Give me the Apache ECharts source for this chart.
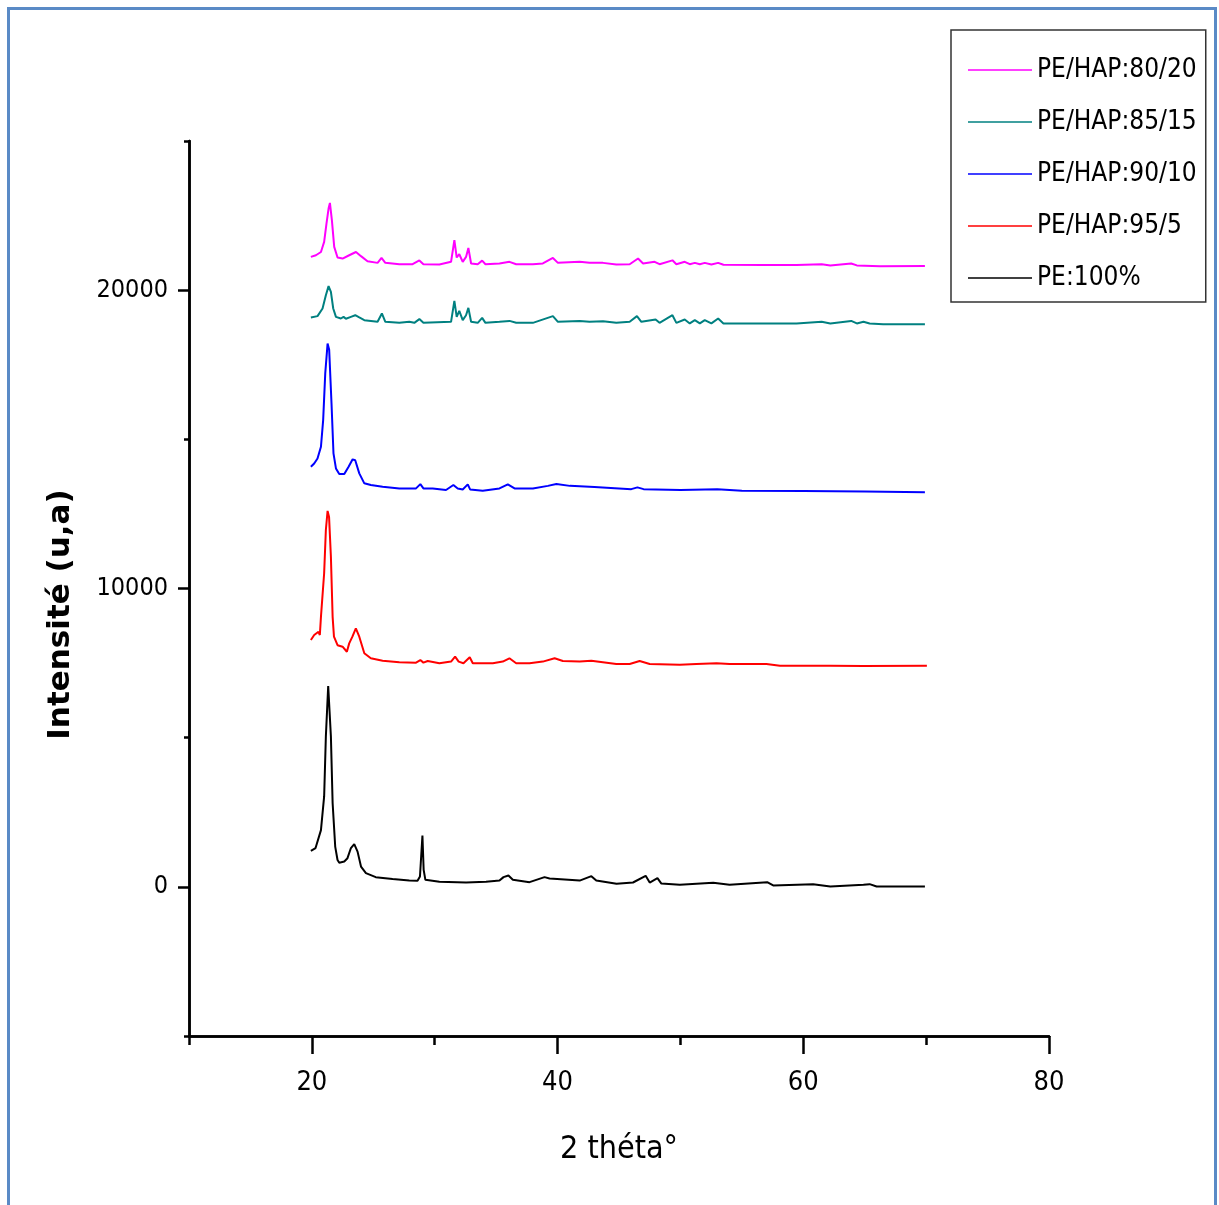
<!DOCTYPE html>
<html>
<head>
<meta charset="utf-8">
<script src="https://cdn.jsdelivr.net/npm/echarts@6/dist/echarts.min.js"></script>
<style>
html,body{margin:0;padding:0;background:#fff;}
#chart{width:1219px;height:1205px;}
</style>
</head>
<body>
<div id="chart"></div>
<script>
// ---- data (2θ, intensity) ----
const seriesNames = ['PE/HAP:80/20', 'PE/HAP:85/15', 'PE/HAP:90/10', 'PE/HAP:95/5', 'PE:100%'];
const seriesColors = ['#ff00ff', '#008080', '#0000ff', '#ff0000', '#000000'];

const pe80_20 = [
  [19.92,21115],[20.33,21170],[20.74,21280],[21.0,21620],[21.19,22230],[21.36,22735],[21.47,22925],
  [21.63,22345],[21.82,21450],[22.09,21095],[22.5,21060],[23.04,21170],[23.59,21280],[24.0,21140],
  [24.53,20970],[25.35,20915],[25.67,21080],[25.98,20915],[27.12,20870],[28.2,20870],[28.75,20995],
  [29.08,20870],[30.38,20860],[31.33,20950],[31.6,21675],[31.79,21095],[32.0,21205],[32.28,20950],
  [32.55,21115],[32.74,21415],[32.96,20895],[33.5,20870],[33.86,20990],[34.13,20870],[35.27,20895],
  [36.09,20950],[36.63,20870],[37.99,20870],[38.8,20895],[39.62,21080],[40.03,20915],[41.8,20950],
  [42.6,20915],[43.7,20915],[44.78,20860],[45.87,20870],[46.55,21060],[46.96,20895],[47.9,20950],
  [48.3,20870],[49.35,21000],[49.67,20870],[50.35,20950],[50.76,20870],[51.17,20915],[51.58,20870],
  [51.98,20915],[52.52,20860],[53.07,20915],[53.5,20850],[56.73,20840],[59.45,20840],[61.5,20870],
  [62.2,20830],[63.9,20895],[64.36,20830],[66.25,20800],[69.9,20810]
];
const pe85_15 = [
  [19.92,19085],[20.46,19130],[20.87,19385],[21.14,19830],[21.36,20135],[21.55,19940],[21.74,19385],
  [21.96,19105],[22.36,19050],[22.58,19105],[22.77,19040],[23.18,19105],[23.53,19160],[23.86,19085],
  [24.27,18995],[25.35,18940],[25.7,19220],[25.98,18940],[27.12,18905],[27.93,18940],[28.34,18905],
  [28.75,19030],[29.08,18905],[31.33,18940],[31.6,19640],[31.79,19105],[32.0,19305],[32.28,18995],
  [32.55,19160],[32.74,19405],[32.96,18940],[33.5,18905],[33.86,19070],[34.13,18905],[35.27,18940],
  [36.09,18970],[36.63,18905],[37.99,18905],[39.62,19130],[40.03,18940],[41.8,18970],[42.6,18940],
  [43.7,18960],[44.78,18905],[45.87,18940],[46.46,19130],[46.82,18940],[47.98,19015],[48.3,18905],
  [49.35,19160],[49.67,18905],[50.35,19015],[50.76,18885],[51.17,18995],[51.58,18885],[51.98,18995],
  [52.52,18885],[53.07,19050],[53.5,18885],[56.73,18885],[59.45,18885],[61.5,18940],[62.2,18885],
  [63.9,18970],[64.36,18885],[64.9,18940],[65.4,18885],[66.5,18860],[69.9,18860]
];
const pe90_10 = [
  [19.92,14080],[20.19,14190],[20.46,14360],[20.74,14750],[20.92,15645],[21.09,17210],[21.28,18210],
  [21.41,18000],[21.6,16200],[21.76,14530],[21.96,14025],[22.23,13835],[22.64,13835],[22.99,14080],
  [23.32,14330],[23.53,14300],[23.86,13860],[24.27,13525],[24.8,13470],[25.76,13410],[27.12,13355],
  [28.48,13355],[28.83,13500],[29.08,13355],[29.84,13355],[30.92,13300],[31.52,13470],[31.87,13355],
  [32.28,13320],[32.69,13490],[32.88,13320],[33.91,13275],[35.27,13355],[35.95,13490],[36.5,13355],
  [37.99,13355],[39.21,13440],[39.9,13500],[41.0,13440],[43.0,13400],[46.0,13330],[46.5,13390],
  [47.0,13330],[50.0,13300],[53.0,13330],[55.0,13280],[60.0,13265],[65.0,13250],[69.9,13230]
];
const pe95_5 = [
  [19.92,8275],[20.19,8440],[20.54,8550],[20.65,8440],[20.74,9050],[21.0,10510],[21.14,11960],
  [21.28,12600],[21.4,12400],[21.55,11065],[21.69,9050],[21.8,8385],[22.09,8100],[22.5,8050],
  [22.85,7880],[23.04,8160],[23.3,8385],[23.58,8665],[23.86,8385],[24.27,7830],[24.8,7660],
  [25.76,7580],[27.12,7530],[28.48,7515],[28.83,7600],[29.08,7515],[29.43,7570],[30.38,7495],
  [31.33,7550],[31.66,7715],[31.95,7550],[32.34,7495],[32.85,7695],[33.1,7495],[34.73,7495],
  [35.54,7550],[36.08,7660],[36.63,7495],[37.72,7495],[38.8,7550],[39.76,7660],[40.43,7570],
  [41.8,7550],[42.75,7580],[44.78,7470],[45.87,7470],[46.68,7570],[47.5,7470],[49.95,7440],
  [51.3,7470],[52.94,7495],[54.0,7470],[57.0,7470],[58.1,7410],[62.2,7410],[64.9,7400],[70.06,7410]
];
const pe100 = [
  [19.92,1206],[20.3,1300],[20.74,1900],[21.0,3030],[21.14,5040],[21.33,6730],[21.55,5040],
  [21.69,2810],[21.9,1350],[22.09,900],[22.23,810],[22.64,850],[22.9,960],[23.18,1300],[23.45,1430],
  [23.72,1180],[24.0,680],[24.4,460],[25.2,325],[26.57,260],[27.93,210],[28.6,200],[28.8,345],
  [29.0,1720],[29.1,570],[29.24,235],[30.38,170],[32.55,145],[34.18,170],[35.27,210],[35.6,325],
  [36.0,380],[36.36,235],[37.72,157],[38.94,325],[39.35,280],[41.8,210],[42.75,357],[43.15,210],
  [44.8,100],[46.14,145],[47.17,370],[47.5,145],[48.13,290],[48.45,110],[49.95,67],[52.67,134],
  [54.0,67],[57.06,157],[57.55,45],[60.8,90],[62.2,10],[64.9,67],[65.4,90],[65.97,10],[69.9,10]
];
const seriesData = [pe80_20, pe85_15, pe90_10, pe95_5, pe100];

const xTickLabels = [20, 40, 60, 80];
const yTickLabels = [0, 10000, 20000];

const narrow = '"Liberation Sans Narrow", "Arial Narrow", "DejaVu Sans Condensed", sans-serif';

const chart = echarts.init(document.getElementById('chart'), null, {renderer: 'canvas'});

chart.setOption({
  animation: false,
  backgroundColor: '#ffffff',
  grid: {left: 189, right: 170, top: 141, bottom: 169},
  graphic: [{
    type: 'rect', left: 6, top: 6, z: -1,
    shape: {width: 1207, height: 1260},
    style: {fill: 'none', stroke: '#5a8ac6', lineWidth: 3}
  }],
  legend: {
    data: seriesNames,
    orient: 'vertical',
    left: 951, top: 30,
    padding: [27, 9, 11, 17],
    itemGap: 26,
    itemWidth: 64,
    itemHeight: 1.5,
    icon: 'rect',
    borderColor: '#333333',
    borderWidth: 1.5,
    textStyle: {fontFamily: narrow, fontSize: 26, color: '#000'}
  },
  xAxis: [{
    type: 'value', min: 10, max: 80, interval: 10, position: 'bottom',
    name: '2 théta°', nameLocation: 'middle', nameGap: 98,
    nameTextStyle: {fontFamily: narrow, fontSize: 32, color: '#000'},
    axisLine: {show: true, onZero: false, lineStyle: {color: '#000', width: 2.5}},
    axisTick: {show: true, length: 18, customValues: xTickLabels, lineStyle: {color: '#000', width: 2.5}},
    axisLabel: {
      margin: 33, fontFamily: narrow, fontSize: 27, color: '#000',
      customValues: xTickLabels,
      formatter: function (v) { return xTickLabels.indexOf(v) >= 0 ? String(v) : ''; }
    },
    splitLine: {show: false}
  }, {
    type: 'value', min: 10, max: 80, interval: 10, position: 'bottom', offset: 0,
    axisLine: {show: true, onZero: false, lineStyle: {color: '#000', width: 2.5}},
    axisTick: {show: true, length: 9, lineStyle: {color: '#000', width: 2.5}},
    axisLabel: {show: false},
    splitLine: {show: false}
  }],
  yAxis: [{
    type: 'value', min: -5000, max: 25000, interval: 5000, position: 'left',
    name: 'Intensité (u,a)', nameLocation: 'middle', nameGap: 113,
    nameTextStyle: {fontFamily: '"DejaVu Sans", sans-serif', fontWeight: 'bold', fontSize: 31, color: '#000',
                    padding: [0, 52, 0, 0]},
    axisLine: {show: true, onZero: false, lineStyle: {color: '#000', width: 2.5}},
    axisTick: {show: true, length: 11, customValues: yTickLabels, lineStyle: {color: '#000', width: 2.5}},
    axisLabel: {
      margin: 21, fontFamily: narrow, fontSize: 25, color: '#000',
      customValues: yTickLabels,
      formatter: function (v) { return yTickLabels.indexOf(v) >= 0 ? String(v) : ''; }
    },
    splitLine: {show: false}
  }, {
    type: 'value', min: -5000, max: 25000, interval: 5000, position: 'left', offset: 0,
    axisLine: {show: true, onZero: false, lineStyle: {color: '#000', width: 2.5}},
    axisTick: {show: true, length: 5, lineStyle: {color: '#000', width: 2.5}},
    axisLabel: {show: false},
    splitLine: {show: false}
  }],
  series: seriesNames.map(function (name, i) {
    return {
      name: name, type: 'line', data: seriesData[i],
      xAxisIndex: 0, yAxisIndex: 0,
      showSymbol: false, symbol: 'none',
      color: seriesColors[i],
      lineStyle: {color: seriesColors[i], width: 2}
    };
  })
});
</script>
</body>
</html>
